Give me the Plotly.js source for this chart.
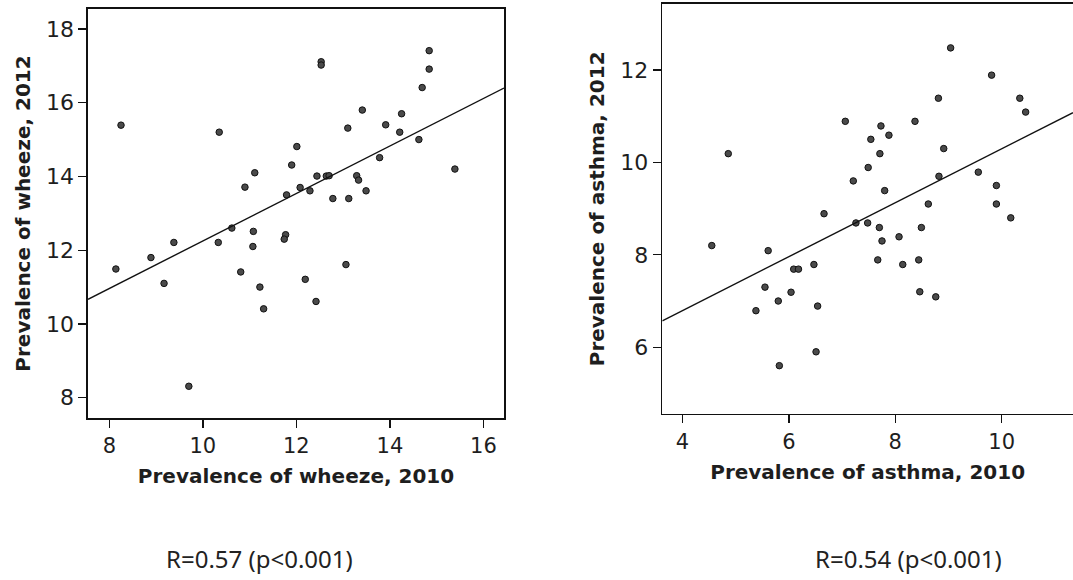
<!DOCTYPE html>
<html>
<head>
<meta charset="utf-8">
<script src="https://cdn.plot.ly/plotly-3.0.1.min.js"></script>
<style>
html,body{margin:0;padding:0;background:#fff;}
#chart{width:1073px;height:580px;}
</style>
</head>
<body>
<div id="chart"></div>
<script>
// Left panel: wheeze prevalence by area, 2010 vs 2012
const wheeze2010 = [8.25,10.35,12.53,12.53,14.84,14.84,14.69,13.41,14.25,13.10,13.91,14.21,14.62,12.01,11.90,13.78,15.39,11.11,10.90,12.44,12.64,12.70,13.29,13.33,12.08,12.29,11.79,12.78,13.12,13.49,8.14,8.89,9.38,9.17,10.33,10.62,11.08,11.07,10.81,11.22,11.30,11.77,11.74,12.19,12.42,13.06,9.70];
const wheeze2012 = [15.39,15.20,17.11,17.02,17.41,16.91,16.41,15.80,15.70,15.31,15.40,15.20,15.00,14.81,14.31,14.51,14.20,14.10,13.71,14.01,14.01,14.02,14.02,13.90,13.70,13.61,13.50,13.40,13.40,13.61,11.49,11.80,12.21,11.10,12.21,12.60,12.51,12.10,11.41,11.00,10.41,12.42,12.30,11.21,10.61,11.61,8.31];

// Right panel: asthma prevalence by area, 2010 vs 2012
const asthma2010 = [4.86,9.04,9.81,8.81,10.34,10.45,7.06,8.37,7.73,7.54,7.88,7.71,8.91,7.49,9.56,7.21,8.82,7.80,9.90,8.62,9.90,10.17,6.66,4.55,5.61,5.55,5.38,5.80,6.04,6.09,6.18,6.47,6.54,6.51,5.82,7.26,7.48,7.70,7.75,7.67,8.07,8.14,8.49,8.44,8.46,8.76];
const asthma2012 = [10.19,12.48,11.89,11.39,11.39,11.09,10.89,10.89,10.79,10.50,10.59,10.19,10.30,9.89,9.79,9.60,9.70,9.39,9.50,9.10,9.10,8.80,8.89,8.20,8.09,7.30,6.79,7.00,7.19,7.69,7.69,7.79,6.89,5.90,5.60,8.69,8.69,8.59,8.30,7.89,8.39,7.79,8.59,7.89,7.20,7.09];

// Fitted regression lines (intercept, slope)
const wheezeFit = [5.81, 0.644];
const asthmaFit = [4.456, 0.584];

const wheezeTicksX = [8,10,12,14,16];
const wheezeTicksY = [8,10,12,14,16,18];
const asthmaTicksX = [4,6,8,10];
const asthmaTicksY = [6,8,10,12];

const corrLabels = ['R=0.57 (p<0.001)', 'R=0.54 (p<0.001)'];
const xTitles = ['Prevalence of wheeze, 2010', 'Prevalence of asthma, 2010'];
const yTitles = ['Prevalence of wheeze, 2012', 'Prevalence of asthma, 2012'];

const xr1 = [7.544, 16.44], yr1 = [7.45, 18.54];
const xr2 = [3.62, 11.34], yr2 = [4.56, 13.43];

const W = 1073, H = 580;
const marker = {size: 6.5, color: '#4a4a4a', line: {color: '#111', width: 1}};
const lineStyle = {color: '#111', width: 1.4};

const traces = [
  {type:'scatter', mode:'markers', x: wheeze2010, y: wheeze2012, xaxis:'x', yaxis:'y', marker: marker},
  {type:'scatter', mode:'lines', x: xr1, y: xr1.map(v => wheezeFit[0] + wheezeFit[1]*v), xaxis:'x', yaxis:'y', line: lineStyle},
  {type:'scatter', mode:'markers', x: asthma2010, y: asthma2012, xaxis:'x2', yaxis:'y2', marker: marker},
  {type:'scatter', mode:'lines', x: xr2, y: xr2.map(v => asthmaFit[0] + asthmaFit[1]*v), xaxis:'x2', yaxis:'y2', line: lineStyle}
];

const xTickFont = {family:'"DejaVu Sans", sans-serif', size:21, color:'#1e1e1e'};
const yTickFont = {family:'"DejaVu Sans", sans-serif', size:22, color:'#1e1e1e'};
const titleFont = {family:'"DejaVu Sans", sans-serif', size:20, color:'#1e1e1e', weight:'bold'};

function axis(range, ticks, domain, anchor, title, mirror, standoff, tf){
  return {
    range: range, domain: domain, anchor: anchor,
    tickmode:'array', tickvals: ticks, ticktext: ticks.map(String),
    ticks:'outside', ticklen: 8, tickwidth: 1.3, tickcolor:'#111',
    showline: true, linecolor:'#111', linewidth: 1.6, mirror: mirror,
    showgrid: false, zeroline: false,
    tickfont: tf,
    title: {text: title, font: titleFont, standoff: standoff}
  };
}

const layout = {
  width: W, height: H,
  margin: {l:0, r:0, t:0, b:0},
  paper_bgcolor:'#fff', plot_bgcolor:'#fff',
  showlegend: false,
  hovermode: false,
  xaxis:  axis(xr1, wheezeTicksX, [88/W, 504/W], 'y', xTitles[0], true, 12, xTickFont),
  yaxis:  axis(yr1, wheezeTicksY, [1-418/H, 1-9/H], 'x', yTitles[0], true, 10, yTickFont),
  xaxis2: axis(xr2, asthmaTicksX, [662.3/W, 1], 'y2', xTitles[1], true, 12, xTickFont),
  yaxis2: axis(yr2, asthmaTicksY, [1-413.7/H, 1-4/H], 'x2', yTitles[1], false, 10, yTickFont),
  annotations: [
    {text: corrLabels[0], xref:'paper', yref:'paper', x: 259/W, y: 1-558/H, showarrow:false,
     xanchor:'center', yanchor:'middle', font:{family:'"Noto Sans", sans-serif', size:24, color:'#222'}},
    {text: corrLabels[1], xref:'paper', yref:'paper', x: 908/W, y: 1-558/H, showarrow:false,
     xanchor:'center', yanchor:'middle', font:{family:'"Noto Sans", sans-serif', size:24, color:'#222'}}
  ]
};

Plotly.newPlot('chart', traces, layout, {displayModeBar:false, staticPlot:true});
</script>
</body>
</html>
